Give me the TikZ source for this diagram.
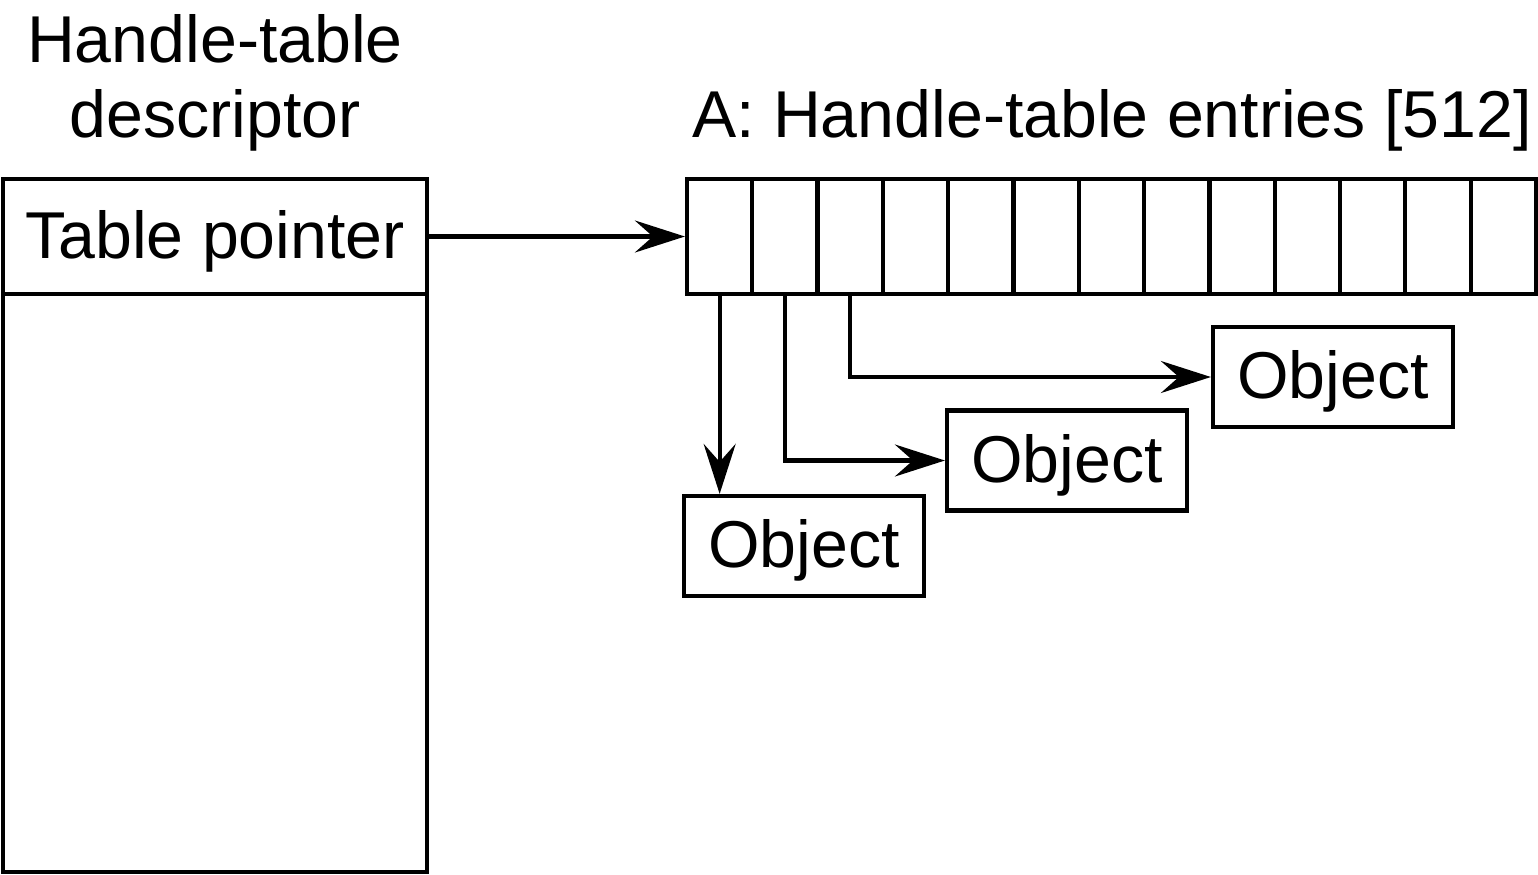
\documentclass[tikz,border=0pt]{standalone}
\usepackage{fontspec}
\setmainfont{Liberation Sans}
\usetikzlibrary{arrows.meta}

\begin{document}
\begin{tikzpicture}

        \tikzstyle{cellnode} = [draw, line width=1.2pt, rectangle, minimum width=0.653cm, minimum height=1.15cm, inner sep=0];
        \tikzstyle{objnode} = [draw, line width=1.2pt, rectangle, minimum width=2.4cm, minimum height=1.0cm, inner sep=0, text height=0.55cm, text depth=0.12cm];
        \tikzstyle{arrow} = [line width=1.2pt, -{Stealth[length=0.5cm, width=0.32cm, inset=0.18cm]}];

        \fontsize{18.85}{21.3}\selectfont
        \useasboundingbox (0,0) rectangle (15.38,-8.74);

        % descriptor
        \node[align=center, anchor=base] (DTITLE) at (2.15,-1.37) {Handle-table\\descriptor};
        \node[draw, line width=1.2pt, rectangle, minimum width=4.24cm, minimum height=1.15cm, inner sep=0, outer sep=0, text height=0.55cm, text depth=0.12cm] (PTR) at (2.15,-2.365) {Table pointer};
        \node[draw, line width=1.2pt, rectangle, minimum width=4.24cm, minimum height=5.78cm, inner sep=0, outer sep=0, anchor=north] (DESC) at (PTR.south) {};

        % entries
        \node[anchor=base] (ATITLE) at (11.12,-1.37) {A: Handle-table entries [512]};
        \foreach \i in {1,...,13}
            \node[cellnode] (C\i) at ({6.87+0.6530*(\i-0.5)},-2.365) {};

        \node[objnode] (O1) at (8.04,-5.46) {Object};
        \node[objnode] (O2) at (10.67,-4.605) {Object};
        \node[objnode] (O3) at (13.33,-3.77) {Object};

        \draw [arrow] (PTR) -- (C1);
        \draw [arrow] (C1.south) -- (C1.south |- O1.north);
        \draw [arrow] (C2.south) |- (O2.west);
        \draw [arrow] (C3.south) |- (O3.west);

    \end{tikzpicture}
\end{document}
